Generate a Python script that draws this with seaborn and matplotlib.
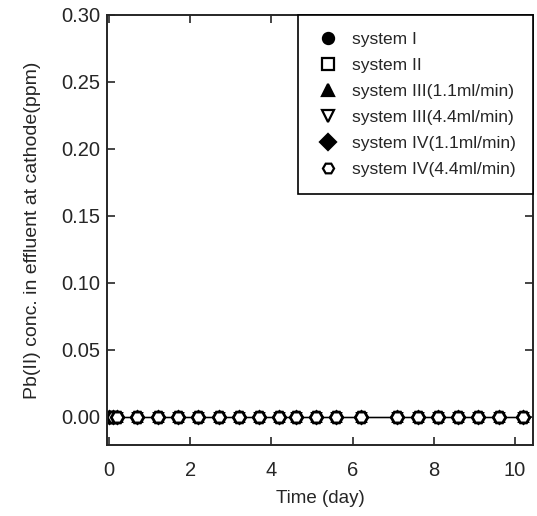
import pandas as pd
import matplotlib
matplotlib.use('Agg')
import matplotlib.pyplot as plt
from matplotlib.lines import Line2D
import seaborn as sns

# 데이터 (모든 계열이 0 ppm)
time_day = [0, 0.1, 0.2, 0.7, 1.2, 1.7, 2.2, 2.7, 3.2, 3.7, 4.2, 4.6,
            5.1, 5.6, 6.2, 7.1, 7.6, 8.1, 8.6, 9.1, 9.6, 10.2]
conc_sys1 = [0.0] * len(time_day)
conc_sys2 = [0.0] * len(time_day)
conc_sys3_11 = [0.0] * len(time_day)
conc_sys3_44 = [0.0] * len(time_day)
conc_sys4_11 = [0.0] * len(time_day)
conc_sys4_44 = [0.0] * len(time_day)

labels = ['system I', 'system II', 'system III(1.1ml/min)', 'system III(4.4ml/min)',
          'system IV(1.1ml/min)', 'system IV(4.4ml/min)']
series = [conc_sys1, conc_sys2, conc_sys3_11, conc_sys3_44, conc_sys4_11, conc_sys4_44]
markers = ['o', 's', '^', 'v', 'D', 'H']
filled = [True, False, True, False, True, False]

sns.set_style('ticks')
plt.rcParams['font.family'] = ['Liberation Sans', 'DejaVu Sans']

fig = plt.figure(figsize=(5.37, 5.16), dpi=100)
ax = fig.add_axes([0.199, 0.138, 0.794, 0.833])

for lab, vals, mk, fl in zip(labels, series, markers, filled):
    df = pd.DataFrame({'time': time_day, 'conc': vals})
    sz = 9 if mk == 'H' else 6
    sns.lineplot(data=df, x='time', y='conc', ax=ax, color='black', linewidth=0.8,
                 marker=mk, markersize=sz, markerfacecolor='black' if fl else 'white',
                 markeredgecolor='black', markeredgewidth=2.0, legend=False)

ax.set_xlim(-0.05, 10.45)
ax.set_ylim(-0.021, 0.30)
ax.set_xticks([0, 2, 4, 6, 8, 10])
ax.set_yticks([0.00, 0.05, 0.10, 0.15, 0.20, 0.25, 0.30])
ax.set_yticklabels(['%.2f' % v for v in ax.get_yticks()])
ax.tick_params(direction='in', top=True, right=True, length=6, width=1.2,
               labelsize=14.5)
ax.tick_params(axis='x', pad=12)
ax.tick_params(axis='y', pad=5)
for s in ax.spines.values():
    s.set_linewidth(1.4)

ax.set_xlabel('Time (day)', fontsize=13.5, labelpad=7)
ax.set_ylabel('Pb(II) conc. in effluent at cathode(ppm)', fontsize=14, labelpad=14)

handles = [Line2D([], [], linestyle='none', marker=mk, markersize=8,
                  markerfacecolor='black' if fl else 'white', markeredgecolor='black',
                  markeredgewidth=1.6) for mk, fl in zip(markers, filled)]
leg = ax.legend(handles, labels, loc='upper right', fontsize=12.5, frameon=True,
                fancybox=False, edgecolor='black', framealpha=1, borderaxespad=0,
                labelspacing=0.62, handletextpad=0.7, borderpad=1.0, handlelength=1.4)
leg.get_frame().set_linewidth(1.2)

plt.savefig('out.png', dpi=100)
plt.close()
